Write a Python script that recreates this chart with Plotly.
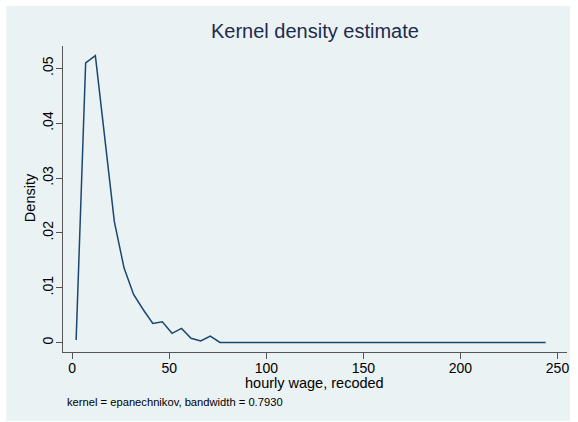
import plotly.graph_objects as go

# Kernel density evaluation points (hourly wage, recoded)
wage = [2.0, 6.9, 11.9, 16.8, 21.7, 26.7, 31.6, 36.6, 41.5, 46.4,
        51.4, 56.3, 61.2, 66.2, 71.1, 76.1, 81.0, 85.9, 90.9, 95.8,
        100.7, 105.7, 110.6, 115.6, 120.5, 125.4, 130.4, 135.3, 140.2, 145.2,
        150.1, 155.0, 160.0, 164.9, 169.9, 174.8, 179.7, 184.7, 189.6, 194.5,
        199.5, 204.4, 209.4, 214.3, 219.2, 224.2, 229.1, 234.0, 239.0, 243.9]
density = [0.0005, 0.0510, 0.0523, 0.0370, 0.0220, 0.0136, 0.0088, 0.0060, 0.0035, 0.0038,
           0.0017, 0.0026, 0.0008, 0.0003, 0.0012, 0.00005, 0.00004, 0.00005, 0.00006, 0.00005,
           0.00004, 0.00005, 0.00004, 0.00005, 0.00004, 0.00004, 0.00005, 0.00006, 0.00005, 0.00004,
           0.00004, 0.00005, 0.00004, 0.00004, 0.00005, 0.00004, 0.00004, 0.00005, 0.00004, 0.00004,
           0.00005, 0.00004, 0.00004, 0.00005, 0.00004, 0.00004, 0.00005, 0.00004, 0.00004, 0.00004]

x_ticks = [0, 50, 100, 150, 200, 250]
x_ticklabels = ["0", "50", "100", "150", "200", "250"]
y_ticks = [0, 0.01, 0.02, 0.03, 0.04, 0.05]
y_ticklabels = ["0", ".01", ".02", ".03", ".04", ".05"]

title_text = "Kernel density estimate"
x_title = "hourly wage, recoded"
y_title = "Density"
note_text = "kernel = epanechnikov, bandwidth = 0.7930"

FONT = "Liberation Sans, Arial, Helvetica, sans-serif"
BG = "#EAF2F3"

W, H = 578, 422
L, R, T, B = 63, 9, 46, 70
pw, ph = W - L - R, H - T - B


def px_x(p):
    return (p - L) / pw


def px_y(p):
    return (H - B - p) / ph


fig = go.Figure()
fig.add_trace(go.Scatter(
    x=wage, y=density, mode="lines",
    line=dict(color="#1A476F", width=1.5),
    hoverinfo="skip", showlegend=False,
))

fig.update_layout(
    width=W, height=H,
    margin=dict(l=L, r=R, t=T, b=B, pad=0),
    paper_bgcolor="white",
    plot_bgcolor="white",
    font=dict(family=FONT, color="#000000"),
    showlegend=False,
    shapes=[dict(
        type="rect", xref="paper", yref="paper", layer="below",
        x0=px_x(6), x1=px_x(572), y0=px_y(421), y1=px_y(6),
        fillcolor=BG, line=dict(width=0),
    )],
    annotations=[
        dict(text=title_text, xref="paper", yref="paper",
             x=px_x(316), y=px_y(31), xanchor="center", yanchor="middle",
             showarrow=False, font=dict(size=20, color="#1E2B4D", family=FONT)),
        dict(text=x_title, xref="paper", yref="paper",
             x=px_x(315.5), y=px_y(383), xanchor="center", yanchor="middle",
             showarrow=False, font=dict(size=14.5, color="#000000", family=FONT)),
        dict(text=y_title, xref="paper", yref="paper",
             x=px_x(30), y=px_y(198), xanchor="center", yanchor="middle",
             textangle=-90, showarrow=False,
             font=dict(size=14.5, color="#000000", family=FONT)),
        dict(text=note_text, xref="paper", yref="paper",
             x=px_x(65.5), y=px_y(401.5), xanchor="left", yanchor="middle",
             showarrow=False, font=dict(size=11.2, color="#000000", family=FONT)),
    ],
)

fig.update_xaxes(
    range=[-4.77, 254.9],
    tickmode="array", tickvals=x_ticks, ticktext=x_ticklabels,
    ticks="outside", ticklen=6, tickwidth=1, tickcolor="#555555",
    ticklabelstandoff=-3,
    showline=True, linecolor="#555555", linewidth=1.2,
    showgrid=False, zeroline=False,
    tickfont=dict(size=14, family=FONT, color="#000000"),
)
fig.update_yaxes(
    range=[-0.0017, 0.05406],
    tickmode="array", tickvals=y_ticks, ticktext=y_ticklabels,
    tickangle=-90,
    ticks="outside", ticklen=6, tickwidth=1, tickcolor="#555555",
    ticklabelstandoff=-3,
    showline=True, linecolor="#555555", linewidth=1.2,
    showgrid=True, gridcolor=BG, gridwidth=1,
    zeroline=False,
    tickfont=dict(size=14, family=FONT, color="#000000"),
)

fig.write_html("out.html")
